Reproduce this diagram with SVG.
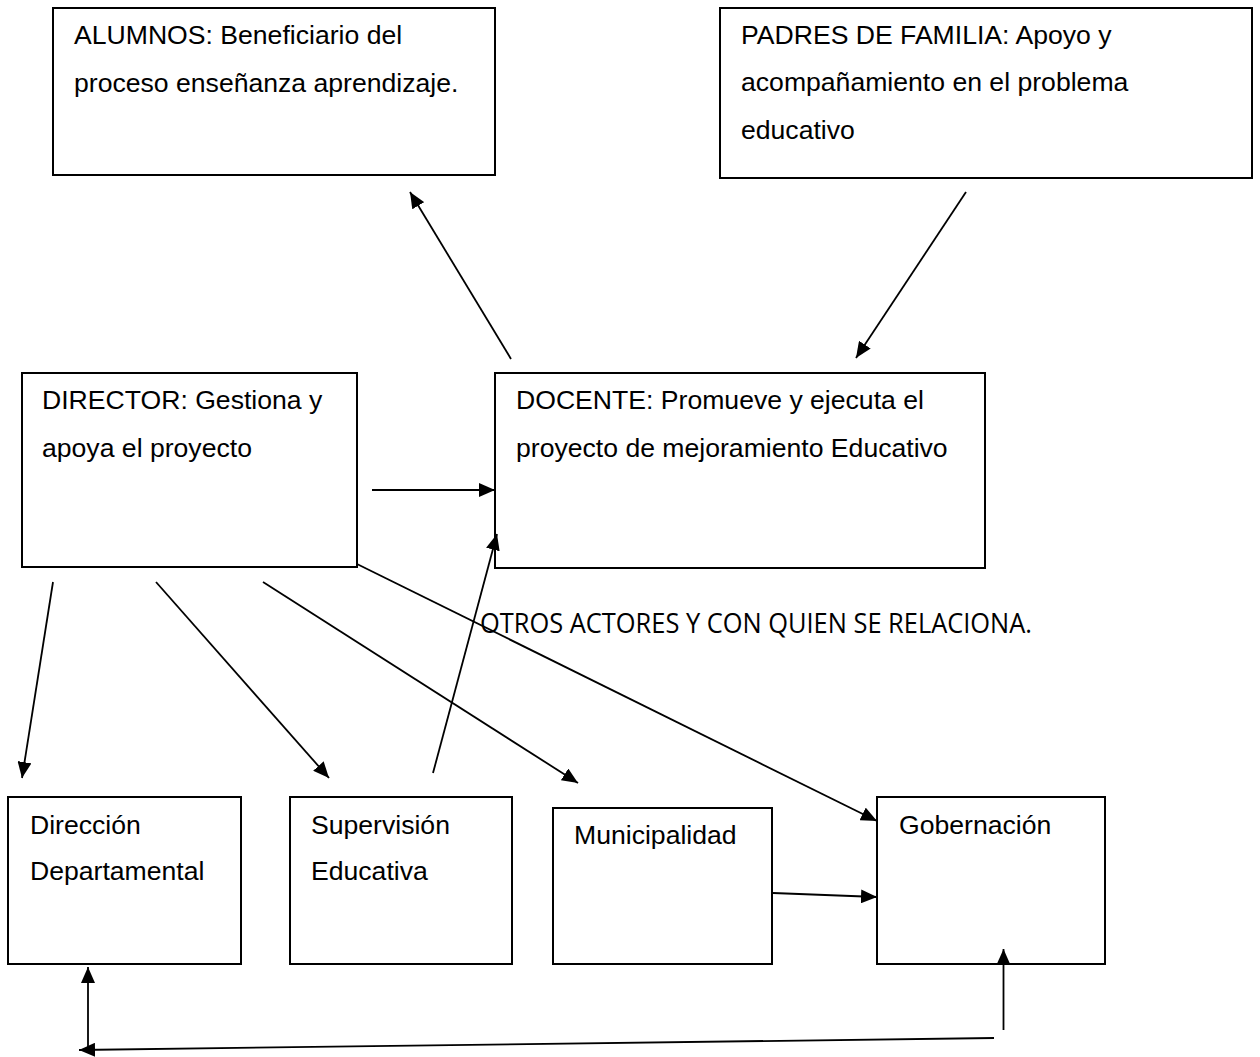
<svg xmlns="http://www.w3.org/2000/svg" width="1260" height="1057" viewBox="0 0 1260 1057">
<style>
.box{fill:#fff;stroke:#000;stroke-width:2}
.t{font-family:"Liberation Sans",Arial,sans-serif;font-size:26.6px;fill:#000}
.c{stroke:#000;stroke-width:1.8;fill:none;marker-end:url(#ah)}
.lab{font-family:"Open Sans","Noto Sans",sans-serif;font-size:27px;fill:#000}
</style>
<defs>
<marker id="ah" markerUnits="userSpaceOnUse" markerWidth="16" markerHeight="14" refX="16" refY="7" orient="auto">
<path d="M0,0 L16,7 L0,14 z" fill="#000"/>
</marker>
</defs>
<rect width="1260" height="1057" fill="#fff"/>
<g id="alumnos"><rect class="box" x="53" y="8" width="442" height="167"/>
<text class="t" x="74" y="44">ALUMNOS: Beneficiario del</text>
<text class="t" x="74" y="92">proceso enseñanza aprendizaje.</text></g>
<g id="padres"><rect class="box" x="720" y="8" width="532" height="170"/>
<text class="t" x="741" y="44">PADRES DE FAMILIA: Apoyo y</text>
<text class="t" x="741" y="91">acompañamiento en el problema</text>
<text class="t" x="741" y="139">educativo</text></g>
<g id="director"><rect class="box" x="22" y="373" width="335" height="194"/>
<text class="t" x="42" y="409">DIRECTOR: Gestiona y</text>
<text class="t" x="42" y="457">apoya el proyecto</text></g>
<g id="docente"><rect class="box" x="495" y="373" width="490" height="195"/>
<text class="t" x="516" y="409">DOCENTE: Promueve y ejecuta el</text>
<text class="t" x="516" y="457">proyecto de mejoramiento Educativo</text></g>
<g id="otros"><text class="lab" x="480" y="633" textLength="552" lengthAdjust="spacingAndGlyphs">OTROS ACTORES Y CON QUIEN SE RELACIONA.</text></g>
<g id="direccion"><rect class="box" x="8" y="797" width="233" height="167"/>
<text class="t" x="30" y="834">Dirección</text>
<text class="t" x="30" y="880">Departamental</text></g>
<g id="supervision"><rect class="box" x="290" y="797" width="222" height="167"/>
<text class="t" x="311" y="834">Supervisión</text>
<text class="t" x="311" y="880">Educativa</text></g>
<g id="municipalidad"><rect class="box" x="553" y="808" width="219" height="156"/>
<text class="t" x="574" y="844">Municipalidad</text></g>
<g id="gobernacion"><rect class="box" x="877" y="797" width="228" height="167"/>
<text class="t" x="899" y="834">Gobernación</text></g>
<g id="connectors">
<line class="c" x1="511" y1="359" x2="410" y2="192"/>
<line class="c" x1="966" y1="192" x2="856" y2="358"/>
<line class="c" x1="372" y1="490" x2="495" y2="490"/>
<line class="c" x1="433" y1="773" x2="497" y2="534"/>
<line class="c" x1="53" y1="582" x2="22" y2="778"/>
<line class="c" x1="156" y1="582" x2="329" y2="778"/>
<line class="c" x1="263" y1="582" x2="578" y2="783"/>
<line class="c" x1="357" y1="564" x2="877" y2="821"/>
<line class="c" x1="773" y1="893" x2="877" y2="897"/>
<line class="c" x1="1003.5" y1="1030" x2="1003.5" y2="949"/>
<line class="c" x1="994" y1="1038" x2="79" y2="1050"/>
<line class="c" x1="88" y1="1052" x2="88" y2="967"/>
</g>
</svg>
